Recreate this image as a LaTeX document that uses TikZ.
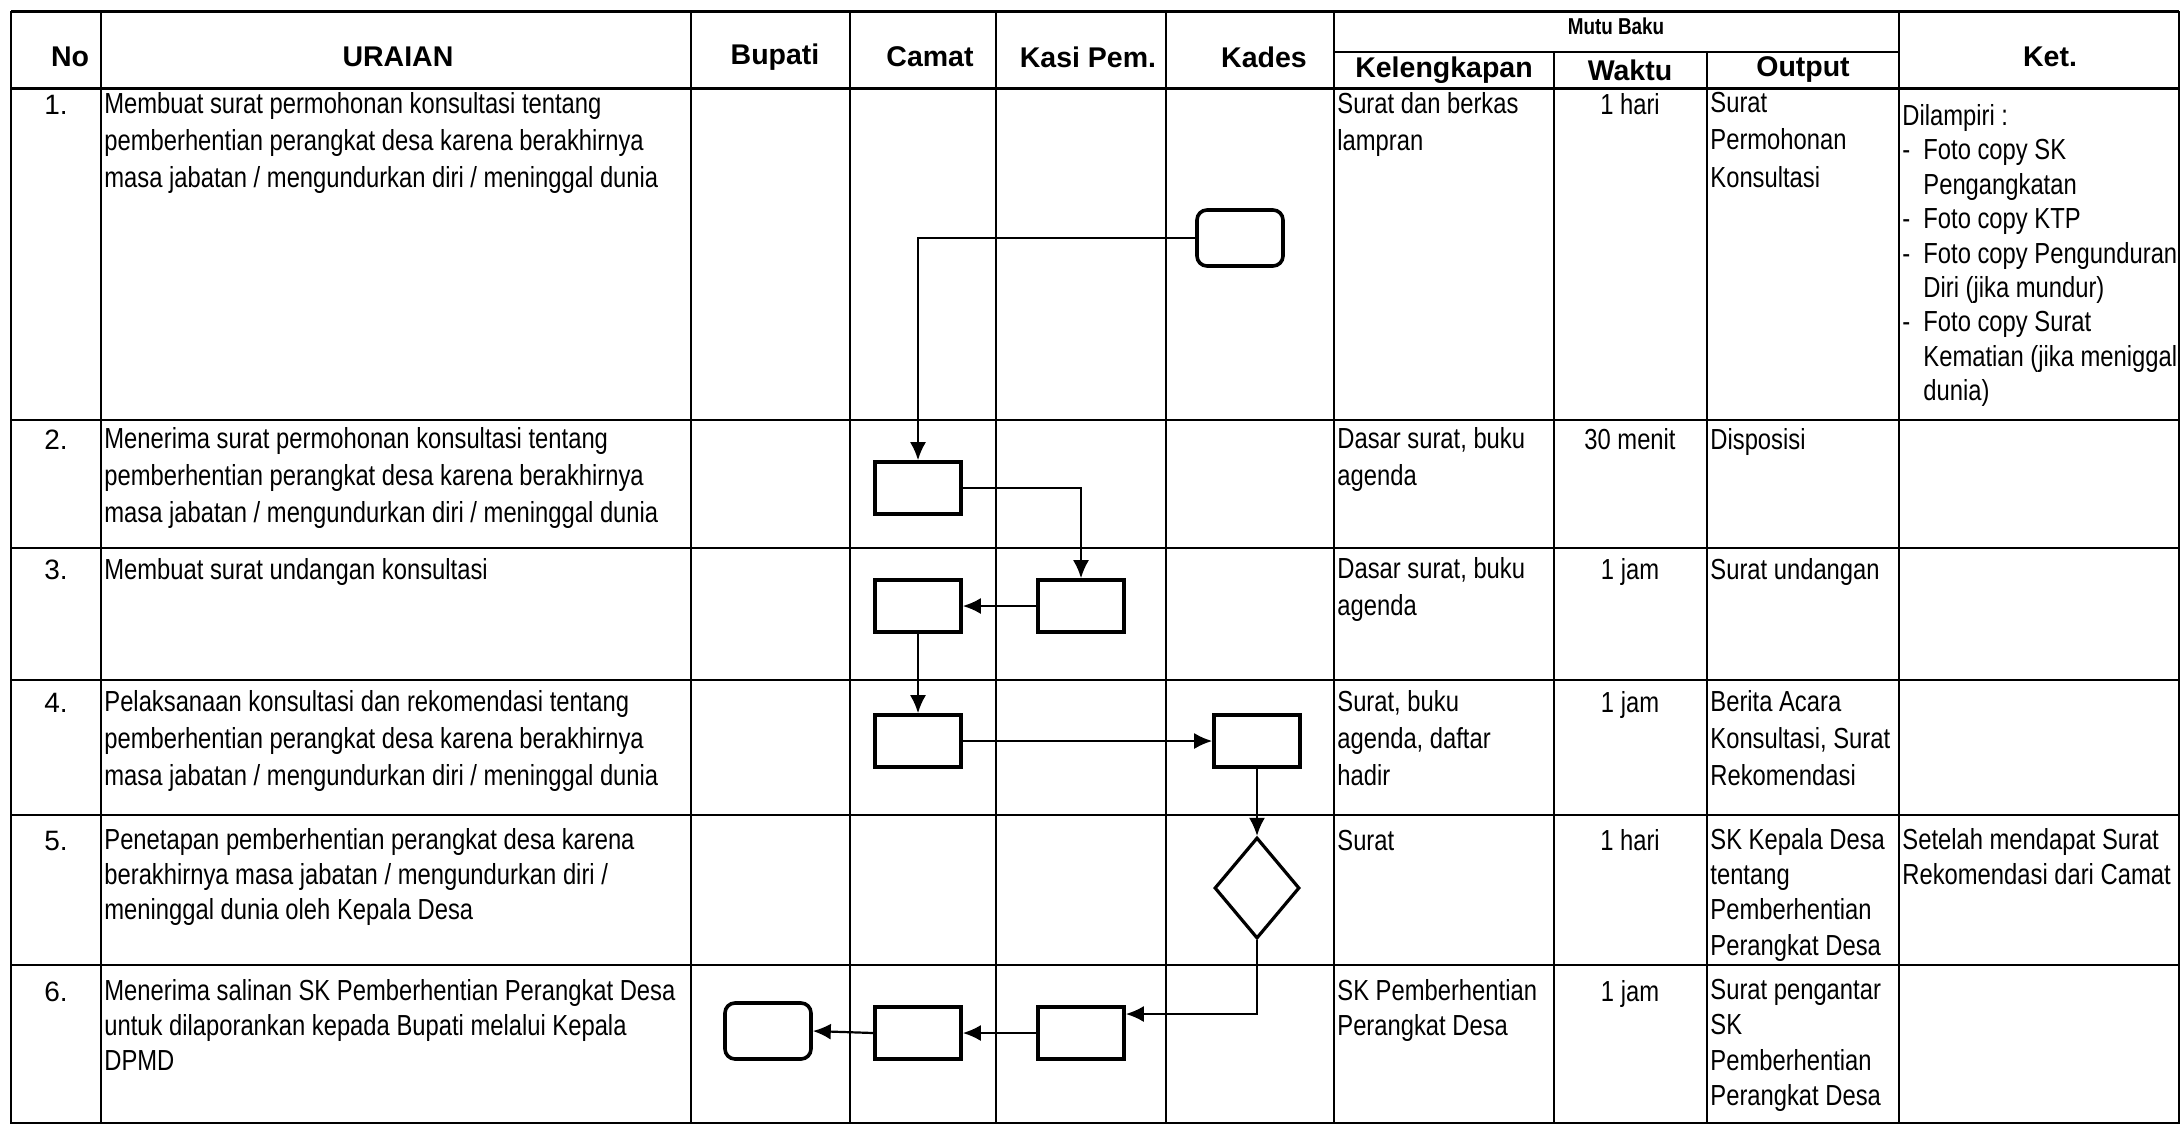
\documentclass[tikz,border=0pt]{standalone}
\usepackage{fontspec}
\setmainfont{Liberation Sans}
\newfontfamily\narrowfont[FakeStretch=0.82]{Liberation Sans}
\usepackage{tikz}
\usetikzlibrary{positioning}
\usetikzlibrary{shapes.geometric}
\usetikzlibrary{arrows.meta}
\tikzset{>={Latex[length=9pt,width=8pt]}}

\newcommand{\ketdash}{\makebox[10.5pt][l]{-}}
\newcommand{\ketgap}{\hspace*{10.5pt}}

\tikzset{
  tabline/.style={line width=1.2pt},
  headline/.style={line width=1.5pt},
  headtext/.style={inner sep=0pt, font=\bfseries\fontsize{14.25}{17}\selectfont},
  celltext/.style={anchor=north west, inner sep=0pt, align=left,
    font=\narrowfont\fontsize{14.5}{18.6}\selectfont,
    execute at begin node={\rule{0pt}{11pt}}},
  tightcell/.style={celltext, font=\narrowfont\fontsize{14.5}{17.6}\selectfont},
  numtext/.style={anchor=base, inner sep=0pt, font=\fontsize{14}{17}\selectfont},
  timetext/.style={anchor=base, inner sep=0pt, font=\narrowfont\fontsize{14.5}{18}\selectfont},
  procbox/.style={draw, line width=1.8pt, minimum width=43pt, minimum height=26pt, inner sep=0pt},
  termbox/.style={procbox, rounded corners=5pt, minimum height=28pt},
  decbox/.style={draw, diamond, line width=1.6pt, minimum width=42.5pt, minimum height=50.5pt, inner sep=0pt},
  flow/.style={->, line width=1.1pt},
}

\begin{document}
\begin{tikzpicture}[x=0.5pt, y=-0.5pt]

\useasboundingbox (0,0) rectangle (2180,1126);

% Frame
\draw[headline] (11,11) -- (2179,11);
\draw[tabline] (11,11) -- (11,1123) -- (2179,1123) -- (2179,11);

% Column lines
\draw[tabline] (101,11) -- (101,1123);
\draw[tabline] (691,11) -- (691,1123);
\draw[tabline] (850,11) -- (850,1123);
\draw[tabline] (996,11) -- (996,1123);
\draw[tabline] (1166,11) -- (1166,1123);
\draw[tabline] (1334,11) -- (1334,1123);
\draw[tabline] (1554,52) -- (1554,1123);
\draw[tabline] (1707,52) -- (1707,1123);
\draw[tabline] (1899,11) -- (1899,1123);

% Row lines
\draw[tabline] (1334,52) -- (1899,52);
\draw[headline] (11,88) -- (2179,88);
\draw[tabline] (11,420) -- (2179,420);
\draw[tabline] (11,548) -- (2179,548);
\draw[tabline] (11,680) -- (2179,680);
\draw[tabline] (11,815) -- (2179,815);
\draw[tabline] (11,965) -- (2179,965);

% Header
\node[headtext] (hNo) at (70,57) {No};
\node[headtext] (hUraian) at (398,57) {URAIAN};
\node[headtext] (hBupati) at (775,57) {Bupati};
\node[headtext] (hCamat) at (930,57) {Camat};
\node[headtext] (hKasi) at (1088,57) {Kasi Pem.};
\node[headtext] (hKades) at (1264,57) {Kades};
\node[inner sep=0pt, font=\narrowfont\bfseries\fontsize{11.5}{13}\selectfont] (hMutu) at (1616,26) {Mutu Baku};
\node[headtext] (hKel) at (1444,70) {Kelengkapan};
\node[headtext] (hWaktu) at (1630,70) {Waktu};
\node[headtext] (hOutput) at (1803,70) {Output};
\node[headtext] (hKet) at (2050,57) {Ket.};

% Row 1
\node[numtext] (n1) at (56,114) {1.};
\node[celltext] (u1) at (104,92) {Membuat surat permohonan konsultasi tentang\\pemberhentian perangkat desa karena berakhirnya\\masa jabatan / mengundurkan diri / meninggal dunia};
\node[celltext] (k1) at (1337,92) {Surat dan berkas\\lampran};
\node[timetext] (w1) at (1630,114) {1 hari};
\node[celltext] (o1) at (1710,92) {Surat\\Permohonan\\Konsultasi};
\node[celltext, font=\narrowfont\fontsize{14.5}{17.2}\selectfont] (ket1) at (1902,104) {Dilampiri :\\\ketdash Foto copy SK\\\ketgap Pengangkatan\\\ketdash Foto copy KTP\\\ketdash Foto copy Pengunduran\\\ketgap Diri (jika mundur)\\\ketdash Foto copy Surat\\\ketgap Kematian (jika meniggal\\\ketgap dunia)};

% Row 2
\node[numtext] (n2) at (56,449) {2.};
\node[celltext] (u2) at (104,427) {Menerima surat permohonan konsultasi tentang\\pemberhentian perangkat desa karena berakhirnya\\masa jabatan / mengundurkan diri / meninggal dunia};
\node[celltext] (k2) at (1337,427) {Dasar surat, buku\\agenda};
\node[timetext] (w2) at (1630,449) {30 menit};
\node[celltext] (o2) at (1710,427) {Disposisi};

% Row 3
\node[numtext] (n3) at (56,579) {3.};
\node[celltext] (u3) at (104,557) {Membuat surat undangan konsultasi};
\node[celltext] (k3) at (1337,557) {Dasar surat, buku\\agenda};
\node[timetext] (w3) at (1630,579) {1 jam};
\node[celltext] (o3) at (1710,557) {Surat undangan};

% Row 4
\node[numtext] (n4) at (56,712) {4.};
\node[celltext] (u4) at (104,690) {Pelaksanaan konsultasi dan rekomendasi tentang\\pemberhentian perangkat desa karena berakhirnya\\masa jabatan / mengundurkan diri / meninggal dunia};
\node[celltext] (k4) at (1337,690) {Surat, buku\\agenda, daftar\\hadir};
\node[timetext] (w4) at (1630,712) {1 jam};
\node[celltext] (o4) at (1710,690) {Berita Acara\\Konsultasi, Surat\\Rekomendasi};

% Row 5
\node[numtext] (n5) at (56,850) {5.};
\node[tightcell] (u5) at (104,828) {Penetapan pemberhentian perangkat desa karena\\berakhirnya masa jabatan / mengundurkan diri /\\meninggal dunia oleh Kepala Desa};
\node[tightcell] (k5) at (1337,828) {Surat};
\node[timetext] (w5) at (1630,850) {1 hari};
\node[tightcell] (o5) at (1710,828) {SK Kepala Desa\\tentang\\Pemberhentian\\Perangkat Desa};
\node[tightcell] (ket5) at (1902,828) {Setelah mendapat Surat\\Rekomendasi dari Camat};

% Row 6
\node[numtext] (n6) at (56,1001) {6.};
\node[tightcell] (u6) at (104,979) {Menerima salinan SK Pemberhentian Perangkat Desa\\untuk dilaporankan kepada Bupati melalui Kepala\\DPMD};
\node[tightcell] (k6) at (1337,979) {SK Pemberhentian\\Perangkat Desa};
\node[timetext] (w6) at (1630,1001) {1 jam};
\node[tightcell] (o6) at (1710,979) {Surat pengantar\\SK\\Pemberhentian\\Perangkat Desa};

% Flow shapes
\node[termbox] (startKades) at (1240,238) {};
\node[procbox] (camat2) at (918,488) {};
\node[procbox] (kasi3) at (1081,606) {};
\node[procbox] (camat3) at (918,606) {};
\node[procbox] (camat4) at (918,741) {};
\node[procbox] (kades4) at (1257,741) {};
\node[decbox] (kades5) at (1257,888) {};
\node[procbox] (kasi6) at (1081,1033) {};
\node[procbox] (camat6) at (918,1033) {};
\node[termbox] (endBupati) at (768,1031) {};

% Flow arrows
\draw[flow] (startKades.west) -| (camat2.north);
\draw[flow] (camat2.east) -| (kasi3.north);
\draw[flow] (kasi3.west) -- (camat3.east);
\draw[flow] (camat3.south) -- (camat4.north);
\draw[flow] (camat4.east) -- (kades4.west);
\draw[flow] (kades4.south) -- (kades5.north);
\draw[flow] (kades5.south) |- ([yshift=9.5pt]kasi6.east);
\draw[flow] (kasi6.west) -- (camat6.east);
\draw[flow] (camat6.west) -- (endBupati.east);

\end{tikzpicture}
\end{document}
